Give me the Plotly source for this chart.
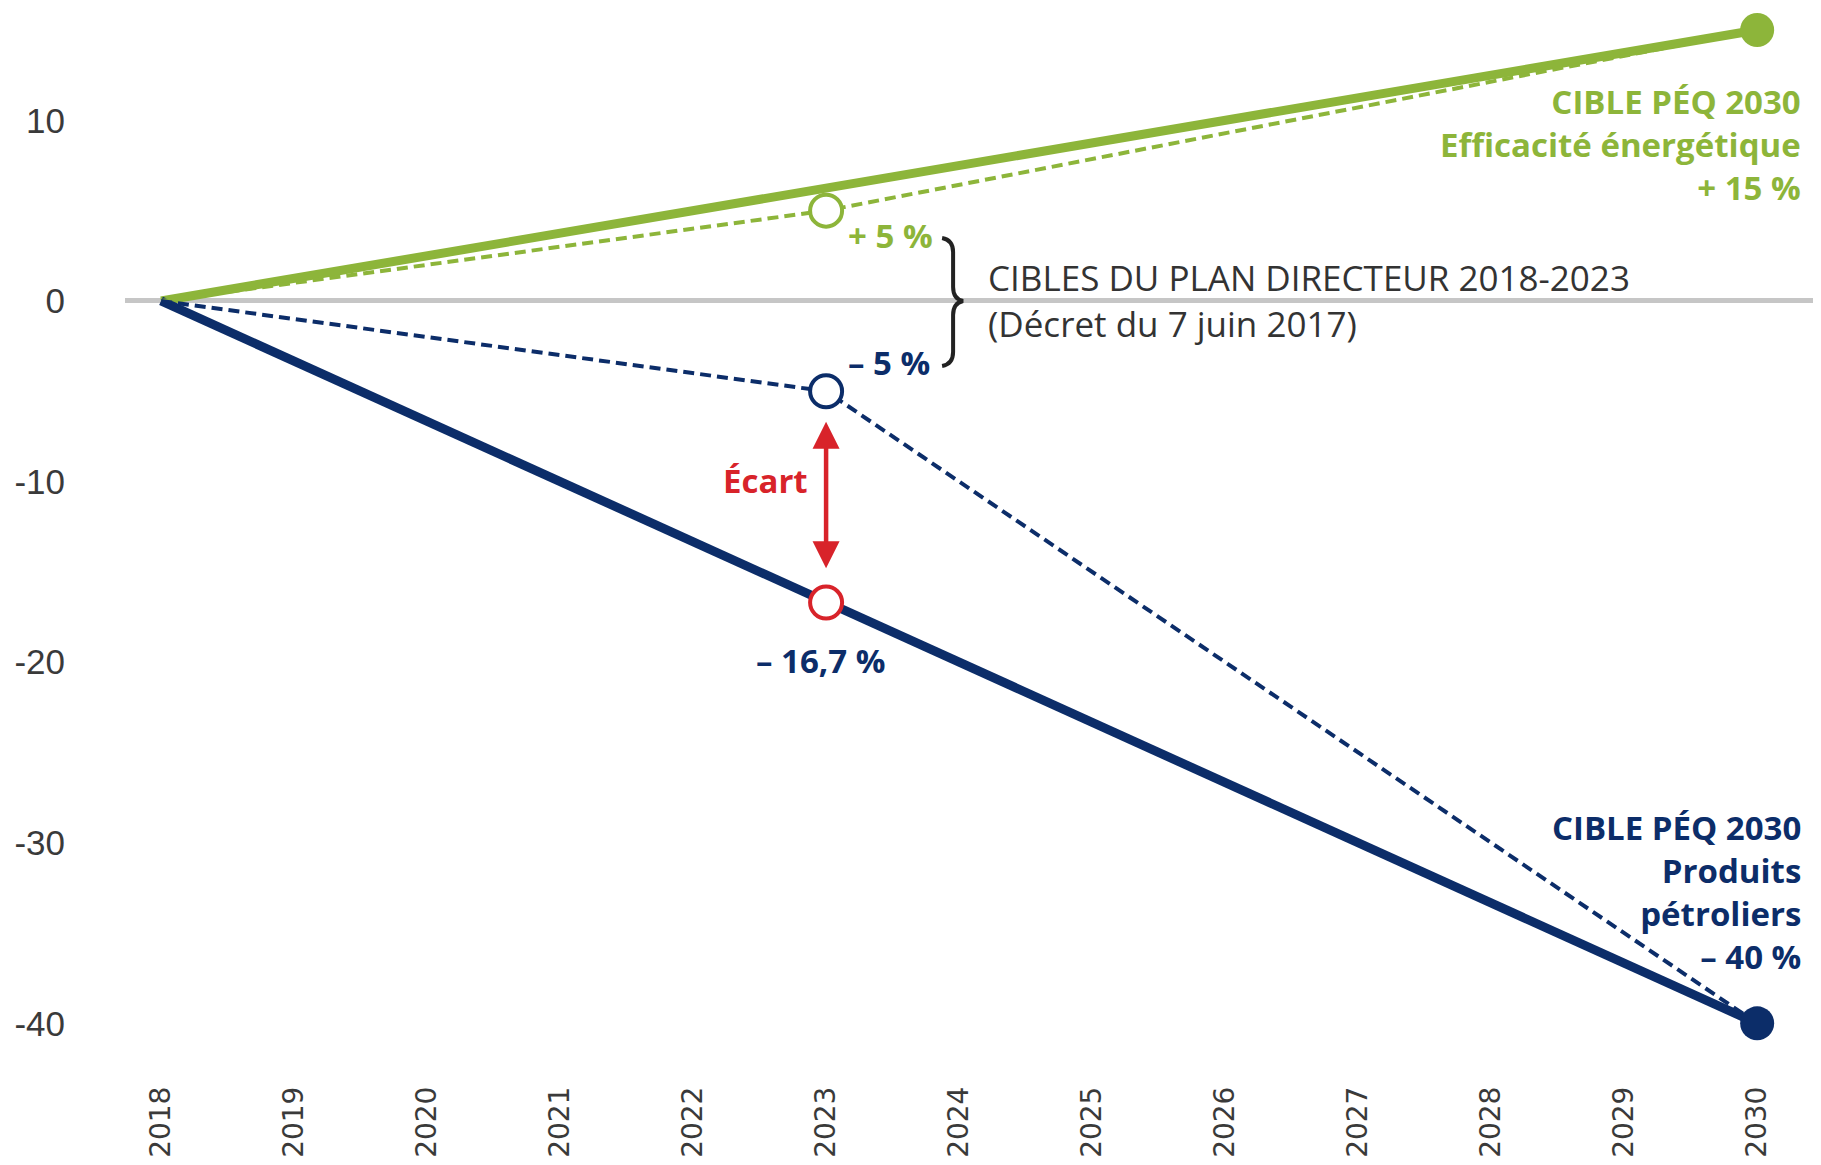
import plotly.graph_objects as go

years = list(range(2018, 2031))
year_labels = [str(y) for y in years]

# Series (percent change vs 2018)
green_target_x = [2018, 2030]
green_target_y = [0, 15]
green_plan_x = [2018, 2023, 2030]
green_plan_y = [0, 5, 15]
blue_target_x = [2018, 2030]
blue_target_y = [0, -40]
blue_plan_x = [2018, 2023, 2030]
blue_plan_y = [0, -5, -40]
gap_point_x = [2023]
gap_point_y = [-16.7]
y_ticks = [-40, -30, -20, -10, 0, 10]

green_label_lines = ["CIBLE PÉQ 2030", "Efficacité énergétique", "+ 15 %"]
navy_label_lines = ["CIBLE PÉQ 2030", "Produits", "pétroliers", "– 40 %"]
plan_label_lines = ["CIBLES DU PLAN DIRECTEUR 2018-2023", "(Décret du 7 juin 2017)"]

GREEN = "#8db53a"
NAVY = "#0c2d69"
RED = "#d8232a"
GRAY = "#c6c6c6"
TXT = "#333333"

fig = go.Figure()

fig.add_trace(go.Scatter(x=green_target_x, y=green_target_y, mode="lines",
                         line=dict(color=GREEN, width=9), hoverinfo="skip"))
fig.add_trace(go.Scatter(x=blue_target_x, y=blue_target_y, mode="lines",
                         line=dict(color=NAVY, width=9), hoverinfo="skip"))
fig.add_trace(go.Scatter(x=green_plan_x, y=green_plan_y, mode="lines",
                         line=dict(color=GREEN, width=4, dash="11px,6px"), hoverinfo="skip"))
fig.add_trace(go.Scatter(x=blue_plan_x, y=blue_plan_y, mode="lines",
                         line=dict(color=NAVY, width=4, dash="11px,6px"), hoverinfo="skip"))

# End-point filled dots
fig.add_trace(go.Scatter(x=[green_target_x[-1]], y=[green_target_y[-1]], mode="markers",
                         marker=dict(color=GREEN, size=34), cliponaxis=False))
fig.add_trace(go.Scatter(x=[blue_target_x[-1]], y=[blue_target_y[-1]], mode="markers",
                         marker=dict(color=NAVY, size=34), cliponaxis=False))

# Open markers at 2023
fig.add_trace(go.Scatter(x=[green_plan_x[1]], y=[green_plan_y[1]], mode="markers",
                         marker=dict(color="white", size=32, line=dict(color=GREEN, width=4))))
fig.add_trace(go.Scatter(x=[blue_plan_x[1]], y=[blue_plan_y[1]], mode="markers",
                         marker=dict(color="white", size=32, line=dict(color=NAVY, width=4))))
fig.add_trace(go.Scatter(x=gap_point_x, y=gap_point_y, mode="markers",
                         marker=dict(color="white", size=32, line=dict(color=RED, width=4))))

BOLD = 33
annotations = [
    dict(x=2030.346, y=8.64, xref="x", yref="y", xanchor="right", yanchor="middle",
         text="<b>" + "<br>".join(green_label_lines) + "</b>", align="right", showarrow=False,
         font=dict(family="Open Sans", size=BOLD, color=GREEN)),
    dict(x=2030.346, y=-32.70, xref="x", yref="y", xanchor="right", yanchor="middle",
         text="<b>" + "<br>".join(navy_label_lines) + "</b>", align="right", showarrow=False,
         font=dict(family="Open Sans", size=BOLD, color=NAVY)),
    dict(x=2024.20, y=0.0, xref="x", yref="y", xanchor="left", yanchor="middle",
         text="<br>".join(plan_label_lines), align="left", showarrow=False,
         font=dict(family="Open Sans", size=35, color=TXT)),
    dict(x=2023.147, y=3.61, xref="x", yref="y", xanchor="left", yanchor="middle",
         text="<b>+ 5 %</b>", showarrow=False, font=dict(family="Open Sans", size=BOLD, color=GREEN)),
    dict(x=2023.147, y=-3.40, xref="x", yref="y", xanchor="left", yanchor="middle",
         text="<b>– 5 %</b>", showarrow=False, font=dict(family="Open Sans", size=BOLD, color=NAVY)),
    dict(x=2022.96, y=-19.92, xref="x", yref="y", xanchor="center", yanchor="middle",
         text="<b>– 16,7 %</b>", showarrow=False, font=dict(family="Open Sans", size=BOLD, color=NAVY)),
    dict(x=2022.876, y=-9.96, xref="x", yref="y", xanchor="right", yanchor="middle",
         text="<b>Écart</b>", showarrow=False, font=dict(family="Open Sans", size=BOLD, color=RED)),
    # Écart double arrow
    dict(x=2023, y=-14.8, ax=2023, ay=-6.6, xref="x", yref="y", axref="x", ayref="y",
         text="", showarrow=True, arrowhead=2, startarrowhead=2, arrowside="end+start",
         arrowwidth=4.5, arrowsize=1.2, startarrowsize=1.2, arrowcolor=RED),
]

# Curly brace (designed in page pixels, converted to data coordinates)
def px2x(px):
    return 2018 + (px - 161) / 133.0

def px2y(py):
    return (301 - py) / 18.06

pts = [
    ("M", 942, 238),
    ("Q", 953, 240, 953, 252),
    ("L", 953, 287),
    ("Q", 953, 299, 963, 301),
    ("Q", 953, 303, 953, 315),
    ("L", 953, 352),
    ("Q", 953, 364, 942, 366),
]
path = ""
for p in pts:
    coords = p[1:]
    s = [f"{px2x(coords[i]):.4f},{px2y(coords[i+1]):.4f}" for i in range(0, len(coords), 2)]
    path += p[0] + " " + " ".join(s) + " "

shapes = [dict(type="path", path=path.strip(), xref="x", yref="y",
               line=dict(color="#222222", width=4), fillcolor="rgba(0,0,0,0)")]

fig.update_layout(
    width=1813, height=1157,
    margin=dict(l=117, r=0, t=0, b=90),
    paper_bgcolor="white", plot_bgcolor="white",
    showlegend=False,
    annotations=annotations,
    shapes=shapes,
    xaxis=dict(range=[2017.729, 2030.48], tickvals=years, ticktext=year_labels,
               tickangle=-90, showgrid=False, zeroline=False, showline=False,
               ticks="", ticklabelstandoff=5,
               tickfont=dict(family="DejaVu Sans", size=28, color="#3a3a3a")),
    yaxis=dict(range=[-42.86, 16.22], tickvals=y_ticks, ticktext=[str(v) for v in y_ticks],
               showgrid=False, zeroline=True, zerolinecolor=GRAY, zerolinewidth=5,
               showline=False, ticks="", ticklabelstandoff=59,
               tickfont=dict(family="Liberation Sans", size=35, color="#3a3a3a")),
)

fig.write_html("out.html")
